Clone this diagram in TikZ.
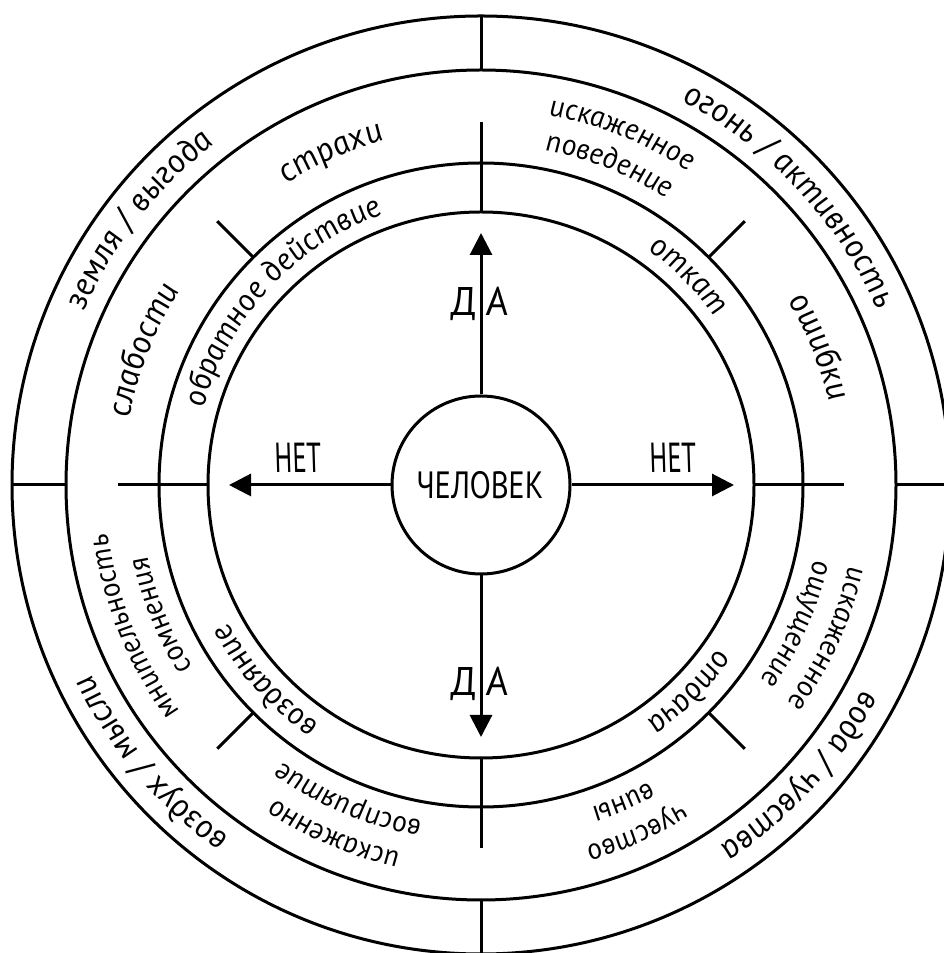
\documentclass[tikz,border=0pt]{standalone}
\usepackage{fontspec}
\newfontfamily\hand{PT Sans}[ItalicFeatures={FakeSlant=-0.17}]
\newcommand\hnd{\hand\itshape}
\usetikzlibrary{arrows.meta,decorations.text}
% centre angle, baseline radius, font size, text
\newcommand\ringtxt[4]{%
  \path[decorate,decoration={text along path,text align=center,
    text={|\fontsize{#3}{#3}\hnd|#4}}]
    ({#1+75}:#2) arc[start angle={#1+75},end angle={#1-75},radius=#2];}
\begin{document}
\begin{tikzpicture}[x=1pt,y=1pt,
  ring/.style={line width=3pt,draw=black},
  seg/.style={line width=3pt,draw=black},
  arr/.style={line width=3pt,draw=black,-{Triangle[length=22pt,width=22pt]}},
  caps/.style={inner sep=0pt,font=\fontsize{40}{40}\hnd}]
\useasboundingbox (0,0) rectangle (944,953);
\fill[white] (0,0) rectangle (944,953);
\begin{scope}[shift={(481,468)}]
  % rings
  \draw[ring] (0,0) circle[radius=469];
  \draw[ring] (0,0) circle[radius=415];
  \draw[ring] (0,0) circle[radius=322];
  \draw[ring] (0,0) circle[radius=273];
  % centre
  \node[ring,circle,minimum size=178pt,inner sep=0pt,
        font=\fontsize{38}{38}\hnd\addfontfeature{FakeStretch=0.84}] (man) at (0,0) {ЧЕЛОВЕК};
  % axis segments
  \foreach \a in {0,90,180,270}{
    \draw[seg] (\a:415) -- (\a:469);
    \draw[seg] (\a:273) -- (\a:363);
  }
  % diagonal ticks
  \foreach \a in {45,135,225,315}{
    \draw[seg] (\a:322) -- (\a:373);
  }
  % arrows
  \coordinate (tN) at (90:252);
  \coordinate (tS) at (270:252);
  \coordinate (tW) at (180:252);
  \coordinate (tE) at (0:253);
  \draw[arr] (man) -- (tN);
  \draw[arr] (man) -- (tS);
  \draw[arr] (man) -- (tW);
  \draw[arr] (man) -- (tE);
  % arrow labels
  \node[caps] (daN) at (0,181) {Д\kern 9ptА};
  \node[caps] (daS) at (0,-199) {Д\kern 9ptА};
  \node[caps,font=\fontsize{42}{42}\hnd\addfontfeature{FakeStretch=0.66}] (netW) at (-181,27) {НЕТ};
  \node[caps,font=\fontsize{42}{42}\hnd\addfontfeature{FakeStretch=0.66}] (netE) at (194,27) {НЕТ};
  % outer ring: elements
  \ringtxt{142}{433}{34}{земля / выгода}
  \ringtxt{43}{433}{34}{огонь / активность}
  \ringtxt{-42.5}{433}{34}{вода / чувства}
  \ringtxt{-140}{433}{34}{воздух / мысли}
  % middle ring
  \ringtxt{114}{358}{34}{страхи}
  \ringtxt{158}{358}{34}{слабости}
  \ringtxt{68}{376}{30}{искаженное}
  \ringtxt{68}{341}{30}{поведение}
  \ringtxt{22}{358}{34}{ошибки}
  \ringtxt{-24}{376}{30}{искаженное}
  \ringtxt{-24}{341}{30}{ощущение}
  \ringtxt{-66}{376}{30}{чувство}
  \ringtxt{-66}{341}{30}{вины}
  \ringtxt{-113}{376}{30}{искаженно}
  \ringtxt{-113}{341}{30}{восприятие}
  \ringtxt{-158}{376}{30}{мнительность}
  \ringtxt{-158}{341}{30}{сомнения}
  % inner ring
  \ringtxt{137}{288}{32}{обратное действие}
  \ringtxt{45}{288}{32}{откат}
  \ringtxt{-45}{288}{32}{отдача}
  \ringtxt{-138}{288}{32}{воздаяние}
\end{scope}
\end{tikzpicture}
\end{document}
